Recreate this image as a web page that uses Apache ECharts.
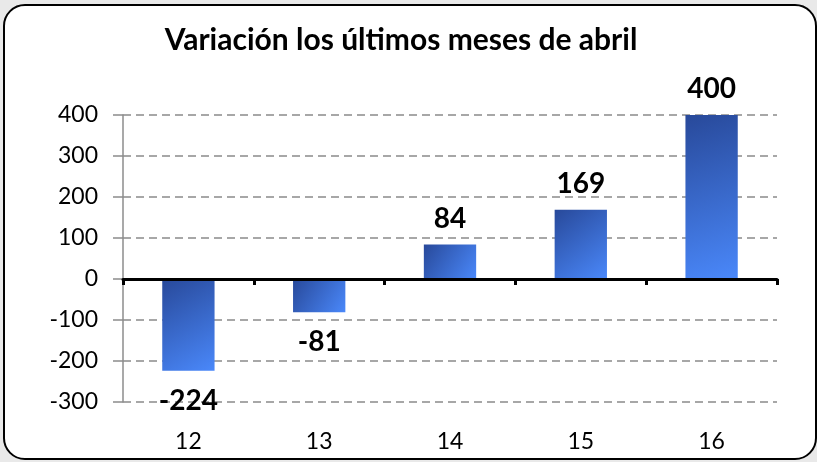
<!DOCTYPE html>
<html>
<head>
<meta charset="utf-8">
<script src="https://cdn.jsdelivr.net/npm/echarts@6/dist/echarts.min.js"></script>
<style>
  html, body { margin: 0; padding: 0; background: #e9e9e9; }
  #box {
    position: absolute; left: 3px; top: 4px; width: 810px; height: 452px;
    border: 2px solid #000; border-radius: 22px; background: #fff;
  }
  #main { position: absolute; left: 0; top: 0; width: 817px; height: 462px; }
</style>
</head>
<body>
<div id="box"></div>
<div id="main"></div>
<script>
var categories = ['12', '13', '14', '15', '16'];
var values = [-224, -81, 84, 169, 400];
var titleText = 'Variación los últimos meses de abril';

var myChart = echarts.init(document.getElementById('main'));

var barData = values.map(function (v) {
	return {
		value: v,
		label: { position: v < 0 ? 'bottom' : 'top', distance: v < 0 ? 16 : 12 }
	};
});

option = {
	textStyle: { fontFamily: 'Lato' },
	title: {
		text: titleText,
		left: 396,
		textAlign: 'center',
		top: 20,
		textStyle: {
			color: '#000',
			fontSize: 30,
			fontWeight: 'bold',
			fontFamily: 'Lato'
		}
	},
	grid: {
		left: 123,
		right: 40,
		top: 115,
		bottom: 60,
		containLabel: false
	},
	xAxis: [{
		type: 'category',
		position: 'bottom',
		data: categories,
		axisLine: { show: false, onZero: false },
		axisTick: { show: false },
		axisLabel: {
			color: '#000',
			fontSize: 23,
			margin: 28
		}
	}, {
		type: 'category',
		position: 'top',
		data: categories,
		z: 10,
		axisLine: {
			show: true,
			onZero: true,
			lineStyle: { color: '#000', width: 3 }
		},
		axisTick: {
			show: true,
			interval: 0,
			inside: true,
			length: 6,
			lineStyle: { color: '#000', width: 3 }
		},
		axisLabel: { show: false }
	}],
	yAxis: [{
		type: 'value',
		min: -300,
		max: 400,
		interval: 100,
		axisLine: {
			show: true,
			lineStyle: { color: '#8c8c8c', width: 1.5 }
		},
		axisTick: {
			show: true,
			length: 10,
			lineStyle: { color: '#8c8c8c', width: 1.5 }
		},
		axisLabel: {
			color: '#000',
			fontSize: 23,
			margin: 25
		},
		splitLine: {
			show: true,
			lineStyle: {
				color: '#8a8a8a',
				width: 1.5,
				type: [8, 5]
			}
		}
	}],
	series: [{
		type: 'bar',
		xAxisIndex: 0,
		barWidth: '40%',
		itemStyle: {
			color: new echarts.graphic.LinearGradient(0, 0, 1, 1, [
				{ offset: 0, color: '#28499a' },
				{ offset: 1, color: '#4a88fa' }
			])
		},
		label: {
			show: true,
			color: '#000',
			fontSize: 28,
			fontWeight: 'bold',
			fontFamily: 'Lato'
		},
		data: barData
	}]
};

myChart.setOption(option);
window.addEventListener("resize", function () {
	myChart.resize();
});
</script>
</body>
</html>
